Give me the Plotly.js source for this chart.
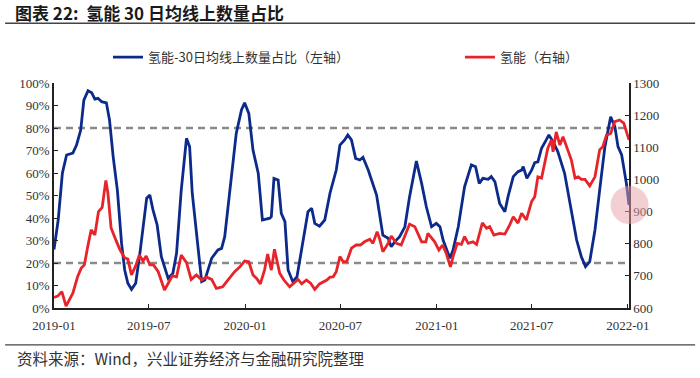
<!DOCTYPE html>
<html>
<head>
<meta charset="utf-8">
<script src="https://cdn.plot.ly/plotly-3.0.1.min.js"></script>
<style>html,body{margin:0;padding:0;background:#fff;}#chart{width:700px;height:378px;}</style>
</head>
<body>
<div id="chart"></div>
<script>
// Share of hydrogen-energy stocks above their 30-day moving average (left axis)
const shareDates = ["2019-01-01","2019-01-09","2019-01-17","2019-01-25","2019-02-06","2019-02-13","2019-02-21","2019-02-27","2019-03-07","2019-03-14","2019-03-20","2019-03-26","2019-04-02","2019-04-11","2019-04-17","2019-04-24","2019-05-02","2019-05-10","2019-05-16","2019-05-22","2019-05-29","2019-06-06","2019-06-14","2019-06-20","2019-06-27","2019-07-03","2019-07-09","2019-07-17","2019-07-25","2019-08-07","2019-08-16","2019-08-23","2019-09-01","2019-09-11","2019-09-17","2019-09-22","2019-09-30","2019-10-10","2019-10-16","2019-10-29","2019-11-10","2019-11-17","2019-11-23","2019-12-03","2019-12-15","2019-12-25","2019-12-31","2020-01-08","2020-01-16","2020-01-26","2020-02-03","2020-02-17","2020-02-20","2020-02-25","2020-03-04","2020-03-10","2020-03-17","2020-03-23","2020-04-01","2020-04-09","2020-04-21","2020-04-30","2020-05-07","2020-05-13","2020-05-22","2020-06-01","2020-06-11","2020-06-23","2020-06-30","2020-07-09","2020-07-15","2020-07-22","2020-07-30","2020-08-07","2020-08-13","2020-08-23","2020-09-08","2020-09-14","2020-09-20","2020-09-30","2020-10-06","2020-10-13","2020-10-22","2020-11-01","2020-11-10","2020-11-23","2020-12-03","2020-12-12","2020-12-22","2020-12-31","2021-01-07","2021-01-13","2021-01-26","2021-02-01","2021-02-11","2021-02-23","2021-03-08","2021-03-16","2021-03-23","2021-03-30","2021-04-09","2021-04-15","2021-04-22","2021-05-01","2021-05-11","2021-05-17","2021-05-27","2021-06-05","2021-06-12","2021-06-15","2021-06-22","2021-07-01","2021-07-07","2021-07-13","2021-07-20","2021-07-29","2021-08-03","2021-08-11","2021-08-20","2021-09-02","2021-09-12","2021-09-25","2021-10-04","2021-10-12","2021-10-20","2021-10-30","2021-11-08","2021-11-18","2021-11-29","2021-12-07","2021-12-13","2021-12-20","2021-12-29","2022-01-03"];
const shareValues = [26,39.1,59.9,68,68.8,72.4,79.1,92.4,96.6,95.7,92.8,93.2,91.7,91.2,83.6,67.2,52.4,28.8,16.9,11,8.3,11,24.3,34.7,48.8,50.2,43.6,36.9,22.8,13.2,15.4,24.3,52.4,75.4,71.7,51,34.7,11.7,12.4,22.1,25.8,26.5,31.7,52.4,77.6,88,91.2,86.5,70.2,59.9,39.1,39.9,40.6,57.6,56.9,42.1,38.4,16.9,11.7,13.9,30.2,42.8,44.3,37.6,36.4,39.1,51,61.3,72.4,74.7,76.9,74.7,66.5,65.8,67,61.3,50.2,42.1,32.4,31,27.2,29.5,31.7,36.1,49.5,65.3,55.4,45,36.1,37.6,36.1,30.2,22.1,25.8,36.1,53.9,63.6,62.8,55.4,57.6,57.2,58.4,56.1,46.5,42.8,49.5,58.4,60.6,61.3,62.8,57.6,61.3,64.6,65,71,74.7,76.9,73.9,69.5,59.9,46.5,30.2,22.8,18.4,20.6,34.7,52.4,71.7,85,80.6,71.7,68,55.4,45.8];

// Hydrogen-energy index (right axis)
const indexDates = ["2019-01-01","2019-01-08","2019-01-16","2019-01-24","2019-02-06","2019-02-15","2019-02-22","2019-02-28","2019-03-07","2019-03-13","2019-03-20","2019-03-27","2019-04-03","2019-04-10","2019-04-14","2019-04-20","2019-04-29","2019-05-07","2019-05-16","2019-05-22","2019-05-29","2019-06-06","2019-06-13","2019-06-20","2019-06-26","2019-07-03","2019-07-10","2019-07-19","2019-07-31","2019-08-07","2019-08-15","2019-08-23","2019-09-01","2019-09-11","2019-09-20","2019-09-30","2019-10-10","2019-10-19","2019-10-29","2019-11-07","2019-11-19","2019-11-29","2019-12-12","2019-12-22","2019-12-31","2020-01-08","2020-01-16","2020-01-23","2020-01-30","2020-02-07","2020-02-13","2020-02-20","2020-02-26","2020-03-07","2020-03-15","2020-03-26","2020-04-05","2020-04-11","2020-04-18","2020-04-27","2020-05-05","2020-05-13","2020-05-22","2020-05-29","2020-06-05","2020-06-11","2020-06-17","2020-06-23","2020-06-30","2020-07-06","2020-07-13","2020-07-22","2020-07-31","2020-08-08","2020-08-16","2020-08-26","2020-09-01","2020-09-09","2020-09-14","2020-09-20","2020-09-30","2020-10-06","2020-10-16","2020-10-25","2020-11-01","2020-11-10","2020-11-20","2020-12-03","2020-12-11","2020-12-15","2020-12-28","2021-01-05","2021-01-12","2021-01-19","2021-01-27","2021-02-01","2021-02-09","2021-02-17","2021-02-23","2021-03-02","2021-03-11","2021-03-18","2021-03-29","2021-04-06","2021-04-12","2021-04-20","2021-05-01","2021-05-11","2021-05-20","2021-05-27","2021-06-05","2021-06-12","2021-06-21","2021-07-01","2021-07-07","2021-07-13","2021-07-20","2021-07-26","2021-08-01","2021-08-08","2021-08-11","2021-08-17","2021-08-24","2021-08-30","2021-09-09","2021-09-15","2021-09-22","2021-09-28","2021-10-04","2021-10-11","2021-10-20","2021-10-30","2021-11-08","2021-11-14","2021-11-21","2021-11-29","2021-12-07","2021-12-16","2021-12-24","2022-01-03"];
const indexValues = [633,637,651,606,646,697,724,734,796,843,827,900,913,997,957,849,812,781,756,752,703,731,765,746,762,734,734,713,656,677,700,697,765,741,689,703,687,696,689,661,666,687,713,728,746,744,703,692,675,718,768,718,783,708,687,666,682,689,675,687,677,658,675,682,687,696,697,713,760,744,744,786,796,796,806,814,801,837,814,775,801,824,801,796,827,861,853,806,806,832,806,780,796,770,728,760,801,798,822,801,806,798,865,848,853,827,832,830,858,884,864,895,874,931,946,1008,1004,1050,1097,1123,1086,1148,1107,1133,1086,1060,1004,1008,1000,1000,980,1008,1092,1102,1138,1143,1180,1185,1175,1123];

const seriesNames = ["氢能-30日均线上数量占比（左轴）", "氢能（右轴）"];
const refLevels = [0.8, 0.2];
const titleText = "图表 22:  氢能 30 日均线上数量占比";
const sourceText = "资料来源：Wind，兴业证券经济与金融研究院整理";

const serif = "Liberation Serif, Times New Roman, serif";
const cjk = "Noto Sans CJK SC, sans-serif";

const traces = [
  {x: shareDates, y: shareValues.map(v => v / 100), name: seriesNames[0], type: "scatter", mode: "lines",
   line: {color: "#0c2a8a", width: 2.8}, yaxis: "y", legend: "legend"},
  {x: indexDates, y: indexValues, name: seriesNames[1], type: "scatter", mode: "lines",
   line: {color: "#e8242b", width: 2.8}, yaxis: "y2", legend: "legend2"}
];

const shapes = refLevels.map(v => ({type: "line", xref: "paper", x0: 0, x1: 1, yref: "y", y0: v, y1: v,
  line: {color: "#8a8a8a", width: 2.5, dash: "7px,5px"}, layer: "below"}));
// header and footer rules
shapes.push({type: "line", xref: "paper", yref: "paper", x0: -0.085, x1: 1.115, y0: 1.266, y1: 1.266, line: {color: "#444", width: 1.5}});
shapes.push({type: "line", xref: "paper", yref: "paper", x0: -0.085, x1: 1.115, y0: -0.164, y1: -0.164, line: {color: "#444", width: 1.2}});
// pink marker circle
shapes.push({type: "circle", xref: "paper", yref: "paper", x0: 0.968, x1: 1.034, y0: 0.373, y1: 0.542,
  fillcolor: "rgba(232,160,170,0.5)", line: {width: 0}, layer: "above"});

const legendFont = {family: cjk, size: 13, color: "#333"};
const layout = {
  width: 700, height: 378,
  margin: {l: 54, r: 71, t: 83, b: 70},
  paper_bgcolor: "#fff", plot_bgcolor: "#fff",
  title: {text: titleText, x: 15/700, xref: "container", xanchor: "left", y: 1 - 14/378, yref: "container", yanchor: "middle",
    font: {family: cjk, size: 17, color: "#1a1a1a", weight: 600}},
  showlegend: true,
  legend: {orientation: "h", x: 0.0939, xanchor: "left", y: 1.115, yanchor: "middle",
    font: legendFont, bgcolor: "rgba(0,0,0,0)"},
  legend2: {orientation: "h", x: 0.706, xanchor: "left", y: 1.115, yanchor: "middle",
    font: legendFont, bgcolor: "rgba(0,0,0,0)"},
  xaxis: {type: "date", range: ["2019-01-01", "2022-01-03"], tick0: "2019-01-01", dtick: "M6", tickformat: "%Y-%m",
    showgrid: false, zeroline: false, showline: true, linecolor: "#222", linewidth: 1.5,
    ticks: "inside", ticklen: 4, tickcolor: "#222", ticklabelstandoff: 5,
    tickfont: {family: serif, size: 13, color: "#333"}},
  yaxis: {range: [0, 1], dtick: 0.1, tickformat: ".0%", showgrid: false, zeroline: false, showline: true,
    linecolor: "#222", linewidth: 1.5, ticks: "inside", ticklen: 4, tickcolor: "#222",
    tickfont: {family: serif, size: 13, color: "#333"}},
  yaxis2: {range: [600, 1300], dtick: 100, overlaying: "y", side: "right", showgrid: false, zeroline: false,
    showline: true, linecolor: "#222", linewidth: 1.5, ticks: "inside", ticklen: 4, tickcolor: "#222",
    tickfont: {family: serif, size: 13, color: "#333"}},
  shapes: shapes,
  annotations: [{text: sourceText, xref: "paper", yref: "paper", x: (15-54)/575, y: (308-358)/225,
    xanchor: "left", yanchor: "middle", showarrow: false, font: {family: cjk, size: 15.5, color: "#333"}}]
};

Plotly.newPlot("chart", traces, layout, {displayModeBar: false, responsive: false});
</script>
</body>
</html>
